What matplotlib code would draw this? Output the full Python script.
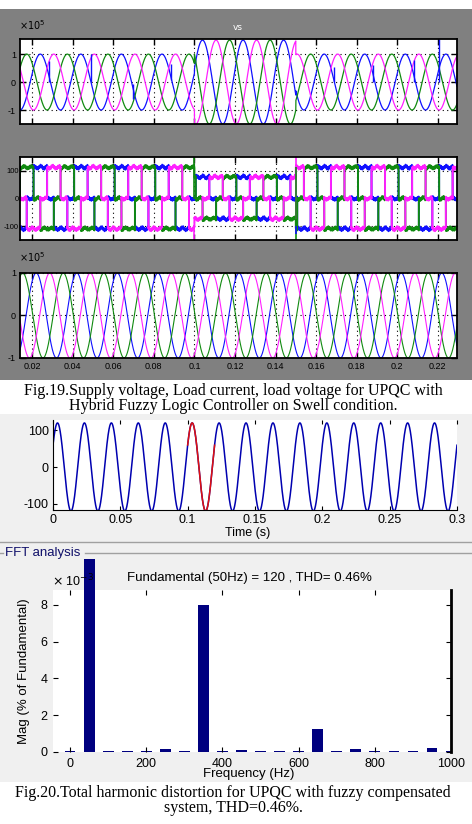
import numpy as np
import matplotlib.pyplot as plt
from matplotlib.patches import Rectangle
from matplotlib.lines import Line2D
from matplotlib.transforms import Bbox, TransformedBbox

W, H = 472, 824

# ------------------------------------------------------------
# Fig.19 : supply voltage / load current / load voltage (swell)
# ------------------------------------------------------------
f_grid = 50.0                      # Hz
t19_lim = (0.014, 0.2295)          # s
swell_t = [0.10, 0.15]             # swell start / end (s)
vs_amp = [1.0, 1.5, 1.0]           # supply voltage peak (x1e5): before / during / after
vl_amp = [1.0, 1.0, 1.0]           # load voltage peak (x1e5)
il_pos = [113, 78, 113]            # load current positive level (A)
il_neg = [-109, -73, -109]         # load current negative level (A)
vs_phase0 = 18                     # deg, phase of blue supply voltage
vl_phase0 = 54                     # deg, phase of blue load voltage
phase_shift = [0, -120, 120]       # blue, magenta, green
phase_colors = ['#1010ff', '#ff20ff', '#108a10']
ripple_f = [300, 1250, 2900]       # Hz, ripple on load current
ripple_a = [4.0, 3.0, 2.5]         # A

# commutation notches on blue supply voltage (t, from, to) x1e5
notch_t = [0.0281, 0.0490, 0.0697, 0.0885, 0.1690, 0.1880, 0.2083, 0.2204]
notch_lo = [0.0, 0.0, -0.60, 0.06, 0.0, 0.0, 0.0, 0.0]
notch_hi = [0.77, 1.00, -0.06, 0.65, 0.55, 0.60, 0.80, 1.55]

# switching spikes on load current at swell start / end
spike_t = [0.100, 0.100, 0.150, 0.150, 0.150]
spike_lo = [0, -150, -73, -150, -130]
spike_hi = [150, -105, 150, 114, -100]
spike_col = [2, 1, 1, 2, 0]        # index into phase_colors

ticks19 = [0.02, 0.04, 0.06, 0.08, 0.10, 0.12, 0.14, 0.16, 0.18, 0.20, 0.22]
ticks19_lbl = ['0.02', '0.04', '0.06', '0.08', '0.1', '0.12', '0.14',
               '0.16', '0.18', '0.2', '0.22']

# ------------------------------------------------------------
# Fig.20 : load voltage waveform and FFT
# ------------------------------------------------------------
t20_lim = (0.0, 0.3)
v20_amp = 120.0
v20_phase0 = 30                    # deg
fft_window = [0.10, 0.12]          # s, one cycle analysed (red)
ticks20 = [0, 0.05, 0.1, 0.15, 0.2, 0.25, 0.3]
ticks20_lbl = ['0', '0.05', '0.1', '0.15', '0.2', '0.25', '0.3']

fft_freq = [0, 50, 100, 150, 200, 250, 300, 350, 400, 450, 500,
            550, 600, 650, 700, 750, 800, 850, 900, 950, 1000]
# magnitude in (% of fundamental) x1e-3 ; fundamental = 100 % (off scale)
fft_mag = [0.06, 1e5, 0.06, 0.06, 0.06, 0.17, 0.06, 8.0, 0.06, 0.10, 0.06,
           0.06, 0.06, 1.25, 0.06, 0.15, 0.06, 0.06, 0.06, 0.22, 0.06]


def px_rect(x0, y0, x1, y1):
    return [x0 / W, 1 - y1 / H, (x1 - x0) / W, (y1 - y0) / H]


def fx(x):
    return x / W


def fy(y):
    return 1 - y / H


fig = plt.figure(figsize=(W / 100, H / 100), dpi=100)
fig.patch.set_facecolor('white')

# backgrounds
fig.add_artist(Rectangle((0, fy(380)), 1, (380 - 9) / H, transform=fig.transFigure,
                         facecolor='#808080', edgecolor='none', zorder=-10))
fig.add_artist(Rectangle((0, fy(782)), 1, (782 - 414) / H, transform=fig.transFigure,
                         facecolor='#f0f0f0', edgecolor='none', zorder=-10))

# ---------------- Fig.19 waveforms ----------------
t = np.arange(t19_lim[0], t19_lim[1], 2e-5)
seg = np.searchsorted(swell_t, t, side='right')
w = 360 * f_grid * t

vs, vl, il = [], [], []
for k in range(3):
    vs.append(np.array(vs_amp)[seg] * np.sin(np.radians(w + vs_phase0 + phase_shift[k])))
    vl.append(np.array(vl_amp)[seg] * np.sin(np.radians(w + vl_phase0 + phase_shift[k])))
    th = (w + vs_phase0 + phase_shift[k]) % 360
    lev = np.where((th > 30) & (th < 150), np.array(il_pos)[seg],
                   np.where((th > 210) & (th < 330), np.array(il_neg)[seg], 0.0))
    rip = sum(a * np.sin(2 * np.pi * fr * t + k * 1.3 + i)
              for i, (fr, a) in enumerate(zip(ripple_f, ripple_a)))
    il.append(lev + rip)

ax1 = fig.add_axes(px_rect(20, 39, 457, 124))
ax2 = fig.add_axes(px_rect(20, 157, 457, 240))
ax3 = fig.add_axes(px_rect(20, 273, 457, 358))

for k in [0, 2, 1]:
    ax1.plot(t, vs[k], color=phase_colors[k], lw=0.9)
    ax2.plot(t, il[k], color=phase_colors[k], lw=1.4)
    ax3.plot(t, vl[k], color=phase_colors[k], lw=0.8)
ax1.vlines(notch_t, notch_lo, notch_hi, color=phase_colors[0], lw=1.0)
ax2.vlines(spike_t, spike_lo, spike_hi, color=[phase_colors[c] for c in spike_col], lw=1.2)

ax1.set_ylim(-1.5, 1.54)
ax1.set_yticks([-1, 0, 1], ['-1', '0', '1'])
ax2.set_ylim(-150, 150)
ax2.set_yticks([-100, 0, 100], ['-100', '0', '100'])
ax3.set_ylim(-1, 1)
ax3.set_yticks([-1, 0, 1], ['-1', '0', '1'])

for ax in (ax1, ax2, ax3):
    ax.set_xlim(t19_lim)
    ax.set_xticks(ticks19)
    ax.set_xticklabels(ticks19_lbl if ax is ax3 else [])
    ax.grid(True, color='k', linestyle=(0, (1, 3)), linewidth=0.8)
    ax.tick_params(direction='in', length=4, width=1, top=True, right=True,
                   labelsize=6.5, pad=3, colors='black')
    for s in ax.spines.values():
        s.set_linewidth(1.3)
    for lb in ax.get_xticklabels() + ax.get_yticklabels():
        lb.set_family('Liberation Sans')
# the +-100 labels of the current plot are squeezed against the left edge
ax2.tick_params(axis='y', labelsize=5.5, pad=1)

fig.text(fx(19), fy(30), r'$\times10^{5}$', fontsize=7, ha='left', va='baseline')
fig.text(fx(19), fy(262), r'$\times10^{5}$', fontsize=7, ha='left', va='baseline')
fig.text(fx(238), fy(28), 'vs', fontsize=6.5, color='white', ha='center', va='center')

cap = dict(family='Liberation Serif', fontsize=11.5, ha='center', va='center',
           multialignment='center', linespacing=0.85)
fig.text(fx(233), fy(398.5),
         'Fig.19.Supply voltage, Load current, load voltage for UPQC with\n'
         'Hybrid Fuzzy Logic Controller on Swell condition.', **cap)

# ---------------- Fig.20 waveform ----------------
t2 = np.arange(t20_lim[0], t20_lim[1], 2e-5)
v2 = v20_amp * np.sin(np.radians(360 * f_grid * t2 + v20_phase0))
win = (t2 >= fft_window[0]) & (t2 <= fft_window[1])

ax4 = fig.add_axes(px_rect(53, 420, 457, 510))
ax4.plot(t2, v2, color='#0000b0', lw=1.1)
ax4.plot(t2[win], v2[win], color='#e01010', lw=1.1)
ax4.set_xlim(t20_lim)
ax4.set_ylim(-117, 128)
ax4.set_xticks(ticks20, ticks20_lbl)
ax4.set_yticks([-100, 0, 100], ['-100', '0', '100'])
ax4.tick_params(direction='in', length=3, top=True, right=False, labelsize=9, pad=3)
ax4.spines['top'].set_visible(False)
ax4.spines['right'].set_visible(False)
for lb in ax4.get_xticklabels() + ax4.get_yticklabels():
    lb.set_family('Liberation Sans')
fig.text(fx(248), fy(533), 'Time (s)', family='Liberation Sans', fontsize=9,
         ha='center', va='center')

# separator and group box
fig.add_artist(Line2D([0, 1], [fy(542), fy(542)], transform=fig.transFigure,
                      color='#a0a0a0', lw=1))
fig.add_artist(Line2D([fx(85), 1], [fy(553), fy(553)], transform=fig.transFigure,
                      color='#a0a0a0', lw=1))
fig.add_artist(Line2D([0, fx(3)], [fy(553), fy(553)], transform=fig.transFigure,
                      color='#a0a0a0', lw=1))
fig.text(fx(5), fy(553), 'FFT analysis', family='Liberation Sans', fontsize=9.5,
         color='#10106a', ha='left', va='center')

# ---------------- FFT bars ----------------
ax5 = fig.add_axes(px_rect(53, 590, 451, 752))
bars = ax5.bar(fft_freq, fft_mag, width=28, color='#00007f', edgecolor='none')
# the fundamental bar runs off the axes, up to the group box
fund = bars.patches[fft_mag.index(max(fft_mag))]
fund.set_clip_box(TransformedBbox(Bbox([[fx(53), fy(752)], [fx(451), fy(559)]]),
                                  fig.transFigure))
ax5.set_xlim(-45, 1000)
ax5.set_ylim(0, 8.8)
ax5.set_xticks([0, 200, 400, 600, 800, 1000])
ax5.set_yticks([0, 2, 4, 6, 8])
ax5.tick_params(direction='in', length=3.5, top=True, right=True, labelsize=9, pad=4)
for side in ['top', 'left', 'bottom']:
    ax5.spines[side].set_visible(False)
ax5.spines['right'].set_linewidth(2)
for lb in ax5.get_xticklabels() + ax5.get_yticklabels():
    lb.set_family('Liberation Sans')

fig.text(fx(249), fy(578), 'Fundamental (50Hz) = 120 , THD= 0.46%',
         family='Liberation Sans', fontsize=9.5, ha='center', va='center')
fig.text(fx(52), fy(586), r'$\times$ 10$^{-3}$', family='Liberation Sans', fontsize=9,
         ha='left', va='baseline')
fig.text(fx(24), fy(671), 'Mag (% of Fundamental)', family='Liberation Sans',
         fontsize=9.5, rotation=90, ha='center', va='center')
fig.text(fx(249), fy(774), 'Frequency (Hz)', family='Liberation Sans', fontsize=9.5,
         ha='center', va='center')

fig.text(fx(233), fy(800.5),
         'Fig.20.Total harmonic distortion for UPQC with fuzzy compensated\n'
         'system, THD=0.46%.', **cap)

fig.savefig('out.png', dpi=100)
